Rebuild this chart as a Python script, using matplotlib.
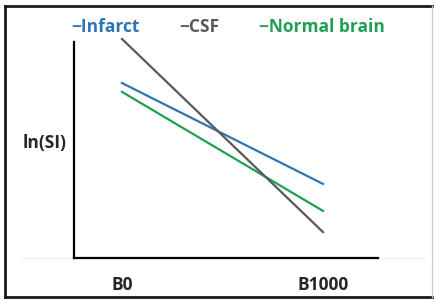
import matplotlib.pyplot as plt
from matplotlib.lines import Line2D

## data
categories = ["B0", "B1000"]
infarct = [8.1, 3.43]
csf = [10.14, 1.2]
normal = [7.69, 2.18]

c_inf = "#2E75B6"
c_csf = "#595959"
c_nor = "#1FA050"

W, H = 434, 300
fig = plt.figure(figsize=(W / 100, H / 100), dpi=100)
plt.rcParams['font.family'] = ['Open Sans', 'DejaVu Sans']

# axes box in pixels: x 74..378, y 42..258
ax = fig.add_axes([74 / W, 1 - 258 / H, (378 - 74) / W, (258 - 42) / H])
x = [0, 1]
ax.plot(x, infarct, color=c_inf, lw=1.6, clip_on=False)
ax.plot(x, normal, color=c_nor, lw=1.6, clip_on=False)
ax.plot(x, csf, color=c_csf, lw=1.6, clip_on=False)

ax.set_xlim(-48 / 201, 1 + 55 / 201)
ax.set_ylim(0, 10)
for s in ["top", "right"]:
    ax.spines[s].set_visible(False)
ax.spines["left"].set_linewidth(1.6)
ax.spines["bottom"].set_linewidth(1.6)
ax.set_xticks([])
ax.set_yticks([])

fs = 12.5
# category labels under the axis
for xi, lab in zip(x, categories):
    ax.text(xi, -1.25, lab, ha="center", va="center", fontsize=fs,
            fontweight="bold", color="#262626", clip_on=False)

fig.text(45 / W, 1 - 143 / H, "ln(SI)", ha="center", va="center",
         fontsize=fs, fontweight="bold", color="#262626")

# legend-like title row
fig.text(105 / W, 1 - 27 / H, "\u2212Infarct", ha="center", va="center",
         fontsize=fs, fontweight="bold", color=c_inf)
fig.text(199 / W, 1 - 27 / H, "\u2212CSF", ha="center", va="center",
         fontsize=fs, fontweight="bold", color=c_csf)
fig.text(322 / W, 1 - 27 / H, "\u2212Normal brain", ha="center", va="center",
         fontsize=fs, fontweight="bold", color=c_nor)

# faint guide line beside x axis
fig.add_artist(Line2D([21 / W, 425 / W], [1 - 258 / H, 1 - 258 / H],
                      color="#f0f0f0", lw=0.8, zorder=0))

# outer frame
fig.add_artist(Line2D([5 / W, 5 / W], [1 - 6 / H, 1 - 297 / H], color="#1a1a1a", lw=2))
fig.add_artist(Line2D([5 / W, 432 / W], [1 - 6 / H, 1 - 6 / H], color="#1a1a1a", lw=2))
fig.add_artist(Line2D([5 / W, 432 / W], [1 - 297 / H, 1 - 297 / H], color="#1a1a1a", lw=2))
fig.add_artist(Line2D([432 / W, 432 / W], [1 - 6 / H, 1 - 297 / H], color="#cccccc", lw=1))

fig.savefig("out.png", dpi=100)
